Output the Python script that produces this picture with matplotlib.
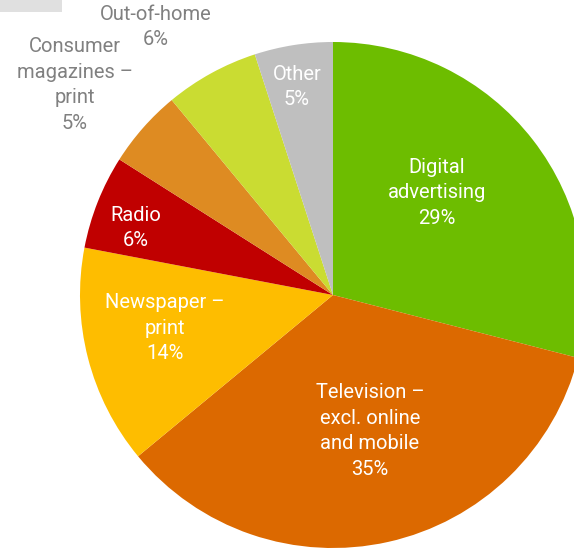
import matplotlib
matplotlib.use("Agg")
import matplotlib.pyplot as plt
from matplotlib.patches import Rectangle

# =========================
# DATA
# =========================
categories = ["Digital\nadvertising", "Television –\nexcl. online\nand mobile",
              "Newspaper –\nprint", "Radio", "Consumer\nmagazines –\nprint",
              "Out-of-home", "Other"]
shares = [29, 35, 14, 6, 5, 6, 5]
colors = ["#6dbd00", "#dc6900", "#febd00", "#c00000", "#de8b22", "#cadc32", "#bfbfbf"]

# label anchor points (pixel coords, y measured from top) and text colour
label_pos = [(437, 193), (370, 431), (165, 328), (136, 228), (75, 85), (156, 27), (297, 87)]
label_color = ["white", "white", "white", "white", "#808080", "#808080", "white"]

W, H = 574, 548
plt.rcParams["font.family"] = ["Roboto", "DejaVu Sans"]

fig = plt.figure(figsize=(W / 100, H / 100), dpi=100)
ax = fig.add_axes([0, 0, 1, 1])

# pie, clockwise from 12 o'clock
ax.pie(shares, colors=colors, startangle=90, counterclock=False,
       center=(333, H - 295), radius=253, frame=True,
       wedgeprops=dict(linewidth=0))
ax.set_xlim(0, W)
ax.set_ylim(0, H)
ax.set_aspect("equal")
ax.axis("off")

for name, val, (x, y), c in zip(categories, shares, label_pos, label_color):
    ax.text(x, H - y, f"{name}\n{val}%", ha="center", va="center",
            color=c, fontsize=14.5, linespacing=1.45)

# small grey bar in the corner
ax.add_patch(Rectangle((0, H - 12), 62, 12, color="#e0e0e0", lw=0))

fig.savefig("out.png", dpi=100)
